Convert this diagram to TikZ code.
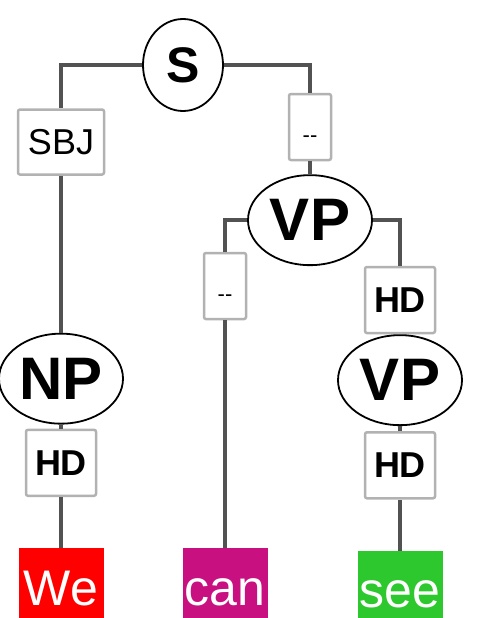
\documentclass[tikz,border=0pt]{standalone}
\usepackage{fontspec}
\setmainfont{Liberation Sans}
\usetikzlibrary{positioning, shapes.geometric}

\definecolor{wordred}{RGB}{255,0,0}
\definecolor{wordmag}{RGB}{200,16,128}
\definecolor{wordgreen}{RGB}{45,200,45}

\begin{document}
\begin{tikzpicture}[x=1pt, y=-1pt]
  \tikzstyle{phrase}=[ellipse, draw=black, line width=1.8pt, fill=white, inner sep=0pt, minimum width=124pt, minimum height=90pt, font=\bfseries\fontsize{60}{60}\selectfont]
  \tikzstyle{func}=[draw=gray!60, line width=2.5pt, rounded corners=2pt, fill=white, inner sep=0pt, minimum height=66pt]
  \tikzstyle{word}=[inner sep=0pt, minimum width=85pt, minimum height=70pt, text=white, text height=44pt, text depth=0pt, font=\fontsize{50}{50}\selectfont]
  \tikzstyle{link}=[draw=black!68, line width=4.5pt]

  \useasboundingbox (0,0) rectangle (491,618);

  % Top of the tree
  \node[phrase, minimum width=80pt, minimum height=92pt, font=\bfseries\fontsize{50}{50}\selectfont] (S) at (183,65) {S};
  \node[func, minimum width=86pt, minimum height=65pt, font=\fontsize{36}{36}\selectfont] (sbj) at (61,142) {SBJ};
  \node[func, minimum width=42pt, text height=30pt, font=\fontsize{22}{22}\selectfont] (dashvp) at (310,127) {-{}-};

  % Subject branch
  \node[phrase, below=157pt of sbj] (np) {NP};
  \node[func, minimum width=70pt, below=4pt of np, font=\bfseries\fontsize{36}{36}\selectfont] (hdnp) {HD};
  \node[word, fill=wordred, below=51pt of hdnp] (we) {We};

  % Verb phrase branch
  \node[phrase, below=13pt of dashvp] (vptop) {VP};
  \node[func, minimum width=42pt, text height=30pt, font=\fontsize{22}{22}\selectfont] (dashcan) at (225,286) {-{}-};
  \node[word, fill=wordmag, below=228pt of dashcan] (can) {can};
  \node[func, minimum width=70pt, font=\bfseries\fontsize{36}{36}\selectfont] (hdvp) at (400,300) {HD};
  \node[phrase, below=0pt of hdvp] (vplow) {VP};
  \node[func, minimum width=70pt, below=5pt of vplow, font=\bfseries\fontsize{36}{36}\selectfont] (hdsee) {HD};
  \node[word, fill=wordgreen, below=51pt of hdsee] (see) {see};

  \draw[link] (S) -| (sbj);
  \draw[link] (sbj) -- (np);
  \draw[link] (np) -- (hdnp);
  \draw[link] (hdnp) -- (we);
  \draw[link] (S) -| (dashvp);
  \draw[link] (dashvp) -- (vptop);
  \draw[link] (vptop) -| (dashcan);
  \draw[link] (dashcan) -- (can);
  \draw[link] (vptop) -| (hdvp);
  \draw[link] (hdvp) -- (vplow);
  \draw[link] (vplow) -- (hdsee);
  \draw[link] (hdsee) -- (see);
\end{tikzpicture}
\end{document}
